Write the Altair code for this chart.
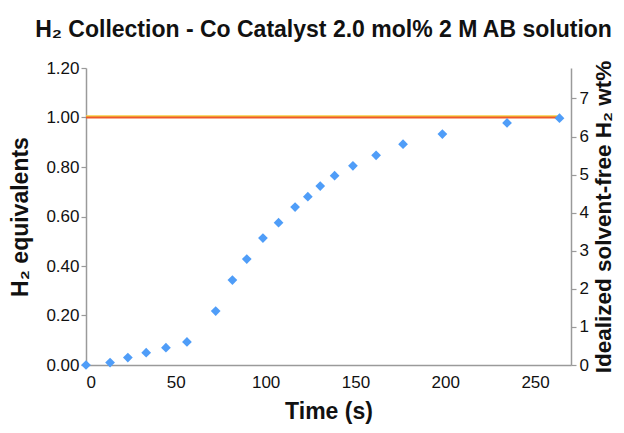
import altair as alt
import pandas as pd

# ---- data ----
time_s = [0, 13.4, 23.3, 33.5, 44.5, 56.2, 72.2, 81.5, 89.5, 98.5, 107.2,
          116.4, 123.5, 130.4, 138.4, 148.6, 161.5, 176.5, 198.4, 234.4, 263.6]
h2_equiv = [0.0, 0.01, 0.03, 0.05, 0.07, 0.093, 0.218, 0.343, 0.428, 0.513, 0.575,
            0.638, 0.68, 0.723, 0.765, 0.805, 0.847, 0.892, 0.933, 0.978, 0.997]
limit_equiv = 1.0          # theoretical 1 equivalent of H2
limit_wt = 6.5             # corresponding idealized wt%
x_ticks = [0, 50, 100, 150, 200, 250]
y_ticks = [0.0, 0.2, 0.4, 0.6, 0.8, 1.0, 1.2]
wt_ticks = [0, 1, 2, 3, 4, 5, 6, 7]

FONT = "Liberation Sans"
AXIS_GRAY = "#9a9a9a"
TITLE_SIZE = 23

pts = pd.DataFrame({"time": time_s, "eq": h2_equiv})
lim = pd.DataFrame({"time": [time_s[0], time_s[-1]],
                    "eq": [limit_equiv, limit_equiv],
                    "wt": [limit_wt, limit_wt]})

x_enc = alt.X("time:Q",
              scale=alt.Scale(domain=[0, 270], nice=False, zero=True),
              axis=alt.Axis(values=x_ticks, title="Time (s)", ticks=False,
                            labelPadding=9, titlePadding=10))

y_left = alt.Y("eq:Q",
               scale=alt.Scale(domain=[0, 1.2], nice=False),
               axis=alt.Axis(orient="left", values=y_ticks, format=".2f",
                             title="H₂ equivalents", tickSize=5,
                             labelPadding=2, titlePadding=13))

red_line = alt.Chart(lim).mark_line(color="#EE5A2A", strokeWidth=2.2).encode(
    x=x_enc, y=y_left)

points = alt.Chart(pts).mark_point(shape="diamond", filled=True, size=95,
                                   color="#4F9DF8", opacity=1).encode(
    x=x_enc, y=y_left)

yellow_line = alt.Chart(lim).mark_line(color="#F5D040", strokeWidth=2,
                                       yOffset=-1.2).encode(
    x=x_enc,
    y=alt.Y("wt:Q",
            scale=alt.Scale(domain=[0, 7.8], nice=False),
            axis=alt.Axis(orient="right", values=wt_ticks, format="d",
                          title="Idealized solvent-free H₂ wt%", titleAngle=-90,
                          titleBaseline="top", titleFontSize=22.5,
                          tickSize=5, labelPadding=3, titlePadding=4)))

chart = alt.layer(yellow_line, alt.layer(red_line, points)).resolve_scale(
    y="independent"
).properties(
    width=485, height=297,
    title=alt.Title("H₂ Collection - Co Catalyst 2.0 mol% 2 M AB solution",
                    font=FONT, fontSize=TITLE_SIZE, fontWeight="bold", color="#111111",
                    anchor="middle", offset=17, dx=-5),
    autosize=alt.AutoSizeParams(type="none"),
    padding={"left": 78, "top": 60, "right": 45, "bottom": 60},
).configure_view(stroke=None).configure_axis(
    grid=False,
    domainColor=AXIS_GRAY, domainWidth=1.5,
    tickColor=AXIS_GRAY, tickWidth=1.2,
    labelFont=FONT, labelFontSize=17, labelColor="#111111",
    titleFont=FONT, titleFontSize=TITLE_SIZE, titleFontWeight="bold", titleColor="#111111",
)

chart.save("out.html", embed_options={"renderer": "svg", "actions": False})
